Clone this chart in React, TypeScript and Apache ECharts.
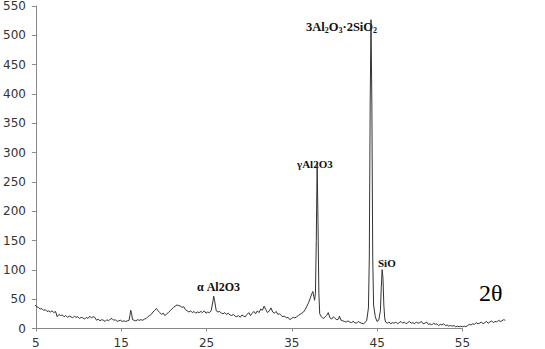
import React, { useEffect, useRef } from "react";
import * as echarts from "echarts";

const twoTheta: number[] = [
  5.0, 5.2, 5.4, 5.6, 5.8, 6.0, 6.2, 6.4, 6.6, 6.8, 7.0, 7.2, 7.4, 7.6, 7.8, 8.0, 8.2, 8.4, 8.6, 8.8,
  9.0, 9.2, 9.4, 9.6, 9.8, 10.0, 10.2, 10.4, 10.6, 10.8, 11.0, 11.2, 11.4, 11.6, 11.8, 12.0, 12.2, 12.4, 12.6, 12.8,
  13.0, 13.2, 13.4, 13.6, 13.8, 14.0, 14.2, 14.4, 14.6, 14.8, 15.0, 15.2, 15.4, 15.6, 15.8, 16.0, 16.1, 16.2, 16.3, 16.4,
  16.6, 16.8, 17.0, 17.2, 17.4, 17.6, 17.8, 18.0, 18.2, 18.4, 18.6, 18.8, 19.0, 19.2, 19.4, 19.6, 19.8, 20.0, 20.2, 20.4,
  20.6, 20.8, 21.0, 21.2, 21.4, 21.6, 21.8, 22.0, 22.2, 22.4, 22.6, 22.8, 23.0, 23.2, 23.4, 23.6, 23.8, 24.0, 24.2, 24.4,
  24.6, 24.8, 25.0, 25.2, 25.4, 25.6, 25.8, 25.9, 26.0, 26.2, 26.4, 26.6, 26.8, 27.0, 27.2, 27.4, 27.6, 27.8, 28.0, 28.2,
  28.4, 28.6, 28.8, 29.0, 29.2, 29.4, 29.6, 29.8, 30.0, 30.2, 30.4, 30.6, 30.8, 31.0, 31.2, 31.4, 31.6, 31.8, 32.0, 32.2,
  32.4, 32.6, 32.8, 33.0, 33.2, 33.4, 33.6, 33.8, 34.0, 34.2, 34.4, 34.6, 34.8, 35.0, 35.2, 35.4, 35.6, 35.8, 36.0, 36.2,
  36.4, 36.6, 36.8, 37.0, 37.2, 37.4, 37.5, 37.6, 37.7, 37.8, 37.9, 38.0, 38.1, 38.2, 38.3, 38.5, 38.7, 38.9, 39.1, 39.3,
  39.5, 39.7, 39.9, 40.1, 40.3, 40.5, 40.6, 40.8, 41.0, 41.2, 41.4, 41.6, 41.8, 42.0, 42.2, 42.4, 42.6, 42.8, 43.0, 43.2,
  43.4, 43.6, 43.8, 44.0, 44.1, 44.2, 44.3, 44.4, 44.5, 44.6, 44.8, 45.0, 45.2, 45.4, 45.5, 45.6, 45.7, 45.8, 45.9, 46.0,
  46.2, 46.4, 46.6, 46.8, 47.0, 47.2, 47.4, 47.6, 47.8, 48.0, 48.2, 48.4, 48.6, 48.8, 49.0, 49.2, 49.4, 49.6, 49.8, 50.0,
  50.2, 50.4, 50.6, 50.8, 51.0, 51.2, 51.4, 51.6, 51.8, 52.0, 52.2, 52.4, 52.6, 52.8, 53.0, 53.2, 53.4, 53.6, 53.8, 54.0,
  54.2, 54.4, 54.6, 54.8, 55.0, 55.2, 55.4, 55.6, 55.8, 56.0, 56.2, 56.4, 56.6, 56.8, 57.0, 57.2, 57.4, 57.6, 57.8, 58.0,
  58.2, 58.4, 58.6, 58.8, 59.0, 59.2, 59.4, 59.6, 59.8, 60.0,
];

const intensity: number[] = [
  40, 37, 36, 33, 34, 31, 32, 29, 30, 28, 30, 27, 29, 20, 24, 22, 23, 20, 22, 19,
  21, 20, 18, 21, 19, 20, 17, 19, 18, 16, 19, 17, 21, 18, 20, 19, 14, 16, 13, 15,
  14, 12, 15, 13, 16, 17, 14, 15, 12, 13, 14, 12, 13, 12, 13, 14, 22, 31, 25, 15,
  14, 13, 15, 14, 15, 14, 16, 17, 20, 22, 24, 28, 31, 34, 30, 27, 24, 26, 22, 25,
  27, 30, 33, 36, 38, 40, 39, 38, 36, 37, 32, 30, 28, 30, 27, 29, 26, 28, 27, 29,
  27, 30, 26, 28, 27, 30, 45, 55, 48, 30, 28, 29, 26, 25, 27, 24, 26, 23, 22, 24,
  21, 20, 22, 19, 23, 21, 20, 24, 27, 22, 26, 29, 25, 30, 27, 33, 31, 38, 32, 27,
  30, 35, 28, 26, 29, 24, 25, 22, 20, 21, 18, 19, 15, 17, 19, 18, 20, 22, 24, 26,
  28, 32, 38, 44, 52, 60, 63, 55, 48, 60, 150, 282, 180, 60, 25, 20, 17, 19, 22, 27,
  18, 16, 20, 17, 15, 16, 21, 14, 13, 12, 11, 13, 11, 10, 12, 10, 9, 12, 10, 9,
  8, 10, 14, 35, 120, 380, 525, 380, 120, 40, 20, 12, 14, 30, 70, 100, 85, 40, 18, 11,
  9, 11, 8, 10, 9, 11, 8, 10, 12, 9, 11, 8, 10, 12, 9, 10, 8, 11, 9, 10,
  12, 8, 9, 11, 7, 8, 6, 9, 7, 8, 5, 7, 6, 8, 5, 6, 4, 5, 4, 5,
  3, 4, 3, 4, 3, 4, 3, 5, 7, 6, 8, 7, 10, 8, 9, 11, 8, 10, 12, 9,
  11, 13, 10, 12, 11, 14, 12, 13, 15, 14,
];

const xTicks: number[] = [5, 15, 25, 35, 45, 55];
const xDataMax = 60;
const yMax = 550;
const yStep = 50;

const annotations: { text: string; x: number; y: number; size: number }[] = [
  { text: "3Al{s|2}O{s|3}·2SiO{s|2}", x: 306, y: 27, size: 12.5 },
  { text: "γAl2O3", x: 297, y: 164, size: 11 },
  { text: "α Al2O3", x: 197, y: 287, size: 12 },
  { text: "SiO", x: 378, y: 263, size: 11 },
];

export default function App() {
  const ref = useRef<HTMLDivElement>(null);
  useEffect(() => {
    if (!ref.current) return;
    const chart = echarts.init(ref.current, undefined, { renderer: "svg" });
    const data = twoTheta.map((x, i) => [x, intensity[i]]);
    const left = 35;
    const plotRight = 462.5;
    const perUnit = (plotRight - left) / (xTicks[xTicks.length - 1] - xTicks[0]);
    const dataRight = left + perUnit * (xDataMax - xTicks[0]);
    chart.setOption({
      animation: false,
      grid: [
        { left, right: 545 - plotRight, top: 5, bottom: 20.5, containLabel: false },
        { left, right: 545 - dataRight, top: 5, bottom: 20.5, containLabel: false },
      ],
      xAxis: [
        {
          type: "value",
          gridIndex: 0,
          min: xTicks[0],
          max: xTicks[xTicks.length - 1],
          interval: 10,
          axisLine: { show: true, lineStyle: { color: "#888", width: 1 } },
          axisTick: { show: true, length: 3, lineStyle: { color: "#888" } },
          axisLabel: { color: "#333", fontFamily: "DejaVu Sans", fontSize: 12, margin: 8 },
          splitLine: { show: false },
        },
        {
          type: "value",
          gridIndex: 1,
          min: xTicks[0],
          max: xDataMax,
          show: false,
          splitLine: { show: false },
        },
      ],
      yAxis: [
        {
          type: "value",
          gridIndex: 0,
          min: 0,
          max: yMax,
          interval: yStep,
          axisLine: { show: true, lineStyle: { color: "#888", width: 1 } },
          axisTick: { show: true, length: 4, lineStyle: { color: "#888" } },
          axisLabel: { color: "#333", fontFamily: "DejaVu Sans", fontSize: 12, margin: 10 },
          splitLine: { show: false },
        },
        {
          type: "value",
          gridIndex: 1,
          min: 0,
          max: yMax,
          show: false,
          splitLine: { show: false },
        },
      ],
      series: [
        {
          type: "line",
          xAxisIndex: 1,
          yAxisIndex: 1,
          data,
          symbol: "none",
          lineStyle: { color: "#333", width: 1 },
        },
      ],
      graphic: [
        ...annotations.map((a) => ({
          type: "text",
          x: a.x,
          y: a.y,
          style: {
            text: a.text,
            fontFamily: "Liberation Serif",
            fontWeight: "bold",
            fontSize: a.size,
            fill: "#111",
            verticalAlign: "middle",
            lineHeight: 15,
            rich: {
              s: {
                fontFamily: "Liberation Serif",
                fontWeight: "bold",
                fontSize: 8,
                lineHeight: 8,
                verticalAlign: "bottom",
                fill: "#111",
              },
            },
          },
        })),
        {
          type: "text",
          x: 479,
          y: 293,
          style: {
            text: "2θ",
            fontFamily: "Liberation Serif",
            fontSize: 24,
            fill: "#000",
            verticalAlign: "middle",
          },
        },
      ],
    });
    return () => chart.dispose();
  }, []);
  return <div ref={ref} style={{ width: 545, height: 349, position: "absolute", left: 0, top: 0 }} />;
}
